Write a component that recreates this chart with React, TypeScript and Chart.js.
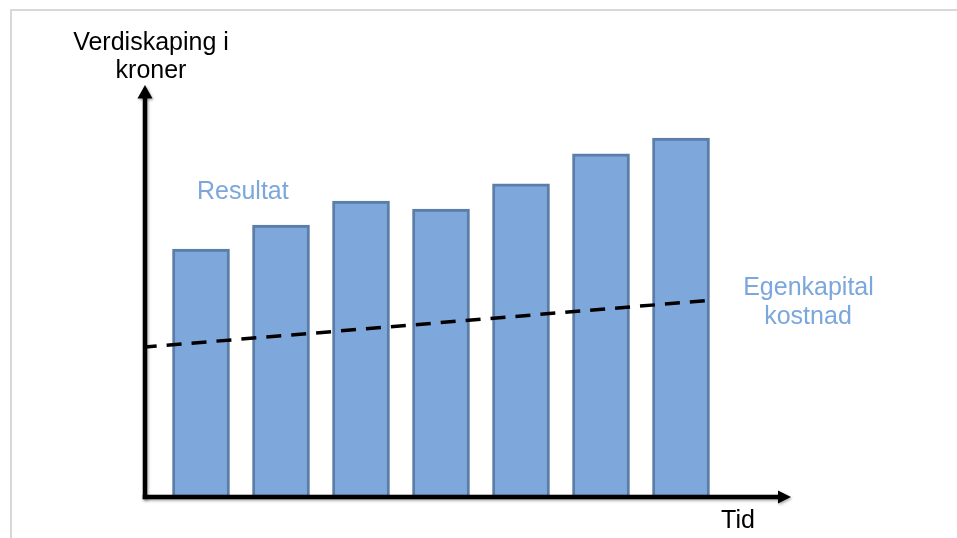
import React, { useEffect, useRef } from 'react';
import { Chart, registerables } from 'chart.js';

Chart.register(...registerables);

// ---- data ----
const periods = [1, 2, 3, 4, 5, 6, 7];
const resultat = [60.2, 66.0, 71.8, 69.9, 76.0, 83.3, 87.1];
const costX = [0.3, 7.34];
const costY = [36.4, 47.7];
const yAxisTitle = ['Verdiskaping i', 'kroner'];
const xAxisTitle = 'Tid';
const resultatLabel = 'Resultat';
const costLabel = ['Egenkapital', 'kostnad'];
const xRange = [0.3, 8.375];
const yRange = [0, 100];

const FONT = '25px "Liberation Sans", Arial, sans-serif';
const LABEL_BLUE = '#7BA7DB';

const decorPlugin = {
  id: 'decor',
  beforeDraw(chart: any) {
    const ctx = chart.ctx;
    ctx.save();
    ctx.fillStyle = '#ffffff';
    ctx.fillRect(0, 0, chart.width, chart.height);
    ctx.strokeStyle = '#d8d8d8';
    ctx.lineWidth = 2;
    ctx.beginPath();
    ctx.moveTo(11, chart.height);
    ctx.lineTo(11, 10);
    ctx.lineTo(chart.width, 10);
    ctx.stroke();
    ctx.restore();
  },
  afterDatasetsDraw(chart: any) {
    const ctx = chart.ctx;
    const { left, right, top, bottom } = chart.chartArea;
    ctx.save();
    ctx.shadowColor = 'rgba(0,0,0,0.35)';
    ctx.shadowBlur = 3;
    ctx.shadowOffsetX = 1;
    ctx.shadowOffsetY = 1.5;
    ctx.strokeStyle = '#000';
    ctx.fillStyle = '#000';
    ctx.lineWidth = 4.5;
    // vertical axis
    ctx.beginPath();
    ctx.moveTo(left, bottom + 2);
    ctx.lineTo(left, top + 12);
    ctx.stroke();
    ctx.beginPath();
    ctx.moveTo(left, top);
    ctx.lineTo(left - 7.5, top + 13.5);
    ctx.lineTo(left + 7.5, top + 13.5);
    ctx.closePath();
    ctx.fill();
    // horizontal axis
    ctx.beginPath();
    ctx.moveTo(left - 2.25, bottom);
    ctx.lineTo(right - 12, bottom);
    ctx.stroke();
    ctx.beginPath();
    ctx.moveTo(right, bottom);
    ctx.lineTo(right - 13, bottom - 6.5);
    ctx.lineTo(right - 13, bottom + 6.5);
    ctx.closePath();
    ctx.fill();
    ctx.restore();

    // texts
    ctx.save();
    ctx.font = FONT;
    ctx.textBaseline = 'alphabetic';
    ctx.fillStyle = '#000';
    ctx.textAlign = 'center';
    ctx.fillText(yAxisTitle[0], 151, 50);
    ctx.fillText(yAxisTitle[1], 151, 78);
    ctx.fillText(xAxisTitle, 738, 528);
    ctx.fillStyle = LABEL_BLUE;
    ctx.textAlign = 'left';
    ctx.fillText(resultatLabel, 197, 199);
    ctx.textAlign = 'center';
    ctx.fillText(costLabel[0], 808.5, 294.5);
    ctx.fillText(costLabel[1], 808, 324);
    ctx.restore();
  },
};

export default function App() {
  const ref = useRef<HTMLCanvasElement | null>(null);
  useEffect(() => {
    if (!ref.current) return;
    const chart = new Chart(ref.current, {
      type: 'bar',
      data: {
        datasets: [
          {
            type: 'bar',
            label: resultatLabel,
            data: periods.map((p, i) => ({ x: p, y: resultat[i] })),
            backgroundColor: '#7EA8DC',
            borderColor: '#5B7DA9',
            borderWidth: 3,
            barThickness: 57,
            order: 2,
          } as any,
          {
            type: 'line',
            label: costLabel.join(' '),
            data: costX.map((x, i) => ({ x, y: costY[i] })),
            borderColor: '#000',
            borderWidth: 3.5,
            borderDash: [15, 10],
            borderDashOffset: 3.3,
            pointRadius: 0,
            fill: false,
            order: 1,
          } as any,
        ],
      },
      options: {
        responsive: false,
        animation: false,
        devicePixelRatio: 1,
        layout: { padding: { left: 145, right: 166, top: 85, bottom: 41 } },
        plugins: { legend: { display: false }, tooltip: { enabled: false } },
        scales: {
          x: { type: 'linear', min: xRange[0], max: xRange[1], offset: false, display: false },
          y: { type: 'linear', min: yRange[0], max: yRange[1], display: false },
        },
      },
      plugins: [decorPlugin],
    });
    return () => chart.destroy();
  }, []);
  return (
    <div style={{ position: 'absolute', left: 0, top: 0, width: 957, height: 538, background: '#fff' }}>
      <canvas ref={ref} width={957} height={538} style={{ display: 'block' }} />
    </div>
  );
}
